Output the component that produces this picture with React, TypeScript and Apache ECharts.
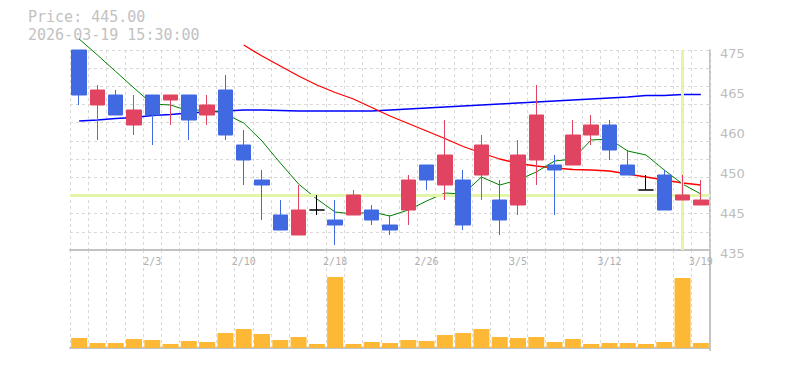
import React, { useEffect, useRef } from "react";
import * as echarts from "echarts";

const dates = [
  "1/28", "1/29", "1/30", "2/2", "2/3", "2/4", "2/5", "2/6", "2/9", "2/10",
  "2/12", "2/13", "2/16", "2/17", "2/18", "2/19", "2/20", "2/24", "2/25", "2/26",
  "2/27", "3/2", "3/3", "3/4", "3/5", "3/6", "3/9", "3/10", "3/11", "3/12",
  "3/13", "3/16", "3/17", "3/18", "3/19",
];

const opens = [475, 464, 466, 460, 466, 465, 466, 462, 467, 456, 449, 442, 438, 443, 441, 442, 443, 440, 443, 452, 448, 449, 450, 445, 444, 453, 452, 452, 458, 460, 452, 447, 450, 445, 444];
const closes = [466, 467, 462, 463, 462, 466, 461, 464, 458, 453, 448, 439, 443, 443, 440, 446, 441, 439, 449, 449, 454, 440, 456, 441, 454, 462, 451, 458, 460, 455, 450, 447, 443, 446, 445];
const lows = [464, 457, 462, 458, 456, 460, 457, 460, 457, 448, 441, 439, 438, 442, 436, 442, 440, 438, 440, 447, 445, 439, 445, 438, 442, 448, 442, 452, 456, 453, 450, 447, 443, 445, 444];
const highs = [475, 468, 467, 466, 466, 466, 466, 466, 470, 459, 451, 445, 448, 446, 445, 447, 444, 442, 450, 452, 461, 451, 458, 449, 457, 468, 454, 461, 462, 461, 455, 450, 451, 450, 449];

const maShort = [477.2, 474, 470.7, 467.4, 464.2, 464, 462.8, 463.2, 462.2, 460.4, 456.8, 452.4, 448.2, 445.2, 442.6, 442.2, 442.6, 441.8, 443, 444.8, 446.4, 446.2, 449.6, 448, 449, 450.6, 452.8, 453.2, 457, 457.2, 454.8, 454, 451, 448.2, 446.2];
const maMid = [null, null, null, null, null, null, null, null, null, 476, 473.8, 471.8, 469.8, 468, 466.5, 465.2, 463.5, 461.8, 460.3, 458.8, 457.3, 455.7, 454.4, 453.2, 452.3, 451.8, 451.4, 451.1, 451, 450.8, 450.2, 449.6, 449, 448.4, 448];
const maLong = [460.8, 461, 461.3, 461.5, 461.9, 462.1, 462.4, 462.6, 462.8, 463, 463, 462.9, 462.8, 462.8, 462.8, 462.8, 462.8, 463, 463.2, 463.4, 463.6, 463.8, 464, 464.2, 464.4, 464.6, 464.8, 465, 465.2, 465.4, 465.6, 465.9, 465.9, 466.1, 466.1];

const volumes = [10, 5, 5, 9, 8, 4, 7, 6, 15, 19, 14, 8, 11, 4, 71, 4, 6, 5, 8, 7, 13, 15, 19, 11, 10, 11, 6, 9, 4, 5, 5, 4, 6, 70, 5];

const priceMin = 435;
const priceMax = 475;
const labelStep = 8;
const crossIndex = 33;
const crossPrice = 446;
const infoPrice = "Price: 445.00";
const infoTime = "2026-03-19 15:30:00";

export default function App() {
  const ref = useRef<HTMLDivElement>(null);
  useEffect(() => {
    document.body.style.margin = "0";
    if (!ref.current) return;
    const chart = echarts.init(ref.current, null, { renderer: "svg" });
    const dash = { type: [3, 3] as any, color: "#d9d9d9", width: 1 };
    const axisGray = "#c3c3c3";
    const candleData = dates.map((_, i) => {
      const v = [opens[i], closes[i], lows[i], highs[i]];
      if (opens[i] === closes[i]) {
        return {
          value: v,
          itemStyle: {
            color: "#000",
            color0: "#000",
            borderColor: "#000",
            borderColor0: "#000",
            borderColorDoji: "#000",
          },
        };
      }
      return v;
    });
    const infoStyle = {
      font: '15px "DejaVu Sans Mono"',
      fill: "#c2c2c2",
      lineHeight: 15,
    };
    chart.setOption({
      animation: false,
      grid: [
        { left: 70, right: 75, top: 50, height: 200 },
        { left: 70, right: 75, top: 250, height: 100 },
      ],
      graphic: [
        { type: "text", left: 28, top: 9, style: { ...infoStyle, text: infoPrice } },
        { type: "text", left: 28, top: 27, style: { ...infoStyle, text: infoTime } },
      ],
      xAxis: [
        {
          type: "category",
          gridIndex: 0,
          data: dates,
          boundaryGap: true,
          axisLine: { show: true, lineStyle: { color: axisGray, width: 2 } },
          axisTick: { show: false },
          axisLabel: {
            interval: (idx: number) => idx % 5 === 4,
            color: "#b0b0b0",
            fontFamily: "DejaVu Sans Mono",
            fontSize: 10,
            margin: 6,
          },
          splitLine: { show: true, interval: 0, lineStyle: dash },
          z: 3,
        },
        {
          type: "category",
          gridIndex: 1,
          data: dates,
          boundaryGap: true,
          axisLine: { show: true, lineStyle: { color: axisGray, width: 2 } },
          axisTick: { show: false },
          axisLabel: { show: false },
          splitLine: { show: true, interval: 0, lineStyle: dash },
        },
      ],
      yAxis: [
        {
          type: "value",
          gridIndex: 0,
          position: "right",
          min: priceMin,
          max: priceMax,
          axisLine: { show: true, lineStyle: { color: axisGray, width: 2 } },
          axisTick: { show: false },
          axisLabel: { show: false },
          splitLine: { show: false },
        },
        {
          type: "value",
          gridIndex: 0,
          position: "right",
          min: 0,
          max: 11,
          interval: 1,
          axisLine: { show: false },
          axisTick: { show: false },
          axisLabel: { show: false },
          splitLine: { show: true, lineStyle: dash },
        },
        {
          type: "value",
          gridIndex: 0,
          position: "right",
          min: 0,
          max: priceMax - priceMin,
          interval: labelStep,
          axisLine: { show: false },
          axisTick: { show: false },
          splitLine: { show: false },
          axisLabel: {
            margin: 10,
            color: "#bdbdbd",
            fontFamily: "DejaVu Sans",
            fontSize: 13,
            verticalAlign: "top",
            lineHeight: 6,
            formatter: (v: number) => String(Math.round((priceMin + v) / 5) * 5),
          },
        },
        {
          type: "value",
          gridIndex: 1,
          position: "right",
          min: -2,
          max: 98,
          axisLine: { show: true, lineStyle: { color: axisGray, width: 2 } },
          axisTick: { show: false },
          axisLabel: { show: false },
          splitLine: { show: false },
        },
      ],
      series: [
        {
          type: "line",
          xAxisIndex: 0,
          yAxisIndex: 0,
          data: [],
          z: 1,
          silent: true,
          markLine: {
            silent: true,
            symbol: "none",
            label: { show: false },
            lineStyle: { color: "#e2f5a8", width: 3, type: "solid" },
            data: [{ xAxis: crossIndex }, { yAxis: crossPrice }],
          },
        },
        {
          type: "candlestick",
          xAxisIndex: 0,
          yAxisIndex: 0,
          barWidth: 15,
          z: 5,
          data: candleData,
          itemStyle: {
            color: "#e04461",
            color0: "#4169e1",
            borderColor: "#e04461",
            borderColor0: "#4169e1",
            borderColorDoji: "#000",
            borderWidth: 1,
          },
        },
        {
          type: "line",
          xAxisIndex: 0,
          yAxisIndex: 0,
          data: maLong,
          symbol: "none",
          clip: false,
          z: 4,
          lineStyle: { color: "#0000ff", width: 1.6 },
        },
        {
          type: "line",
          xAxisIndex: 0,
          yAxisIndex: 0,
          data: maMid,
          symbol: "none",
          clip: false,
          z: 4,
          lineStyle: { color: "#ff0000", width: 1.3 },
        },
        {
          type: "line",
          xAxisIndex: 0,
          yAxisIndex: 0,
          data: maShort,
          symbol: "none",
          clip: false,
          z: 4,
          lineStyle: { color: "#008000", width: 1 },
        },
        {
          type: "bar",
          xAxisIndex: 1,
          yAxisIndex: 3,
          data: volumes,
          barWidth: 16,
          itemStyle: { color: "#fdb935" },
        },
      ],
    });
    return () => chart.dispose();
  }, []);
  return <div ref={ref} style={{ width: 785, height: 370 }} />;
}
